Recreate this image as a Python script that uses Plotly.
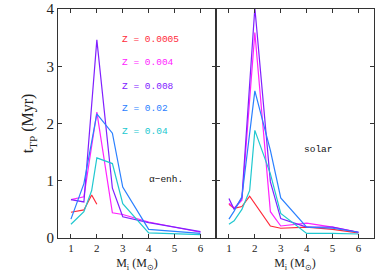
import plotly.graph_objects as go

# ---- data: alpha-enhanced panel ----
ae_red_x = [1, 1.5, 1.8, 2]
ae_red_y = [0.45, 0.49, 0.75, 0.59]
ae_mag_x = [1, 1.5, 2, 2.6, 3, 4, 6]
ae_mag_y = [0.67, 0.72, 2.20, 0.44, 0.41, 0.28, 0.10]
ae_pur_x = [1, 1.5, 2, 2.6, 3, 4, 6]
ae_pur_y = [0.67, 0.63, 3.46, 0.87, 0.37, 0.27, 0.11]
ae_blu_x = [1, 1.5, 2, 2.6, 3, 4, 6]
ae_blu_y = [0.33, 0.95, 2.17, 1.83, 0.89, 0.15, 0.08]
ae_cya_x = [1, 1.5, 1.8, 2, 2.6, 3, 4, 6]
ae_cya_y = [0.24, 0.46, 0.83, 1.40, 1.30, 0.60, 0.09, 0.06]

# ---- data: solar panel ----
so_red_x = [1, 1.2, 1.5, 1.8, 2.6, 3, 4, 5, 6]
so_red_y = [0.59, 0.52, 0.55, 0.73, 0.21, 0.17, 0.19, 0.15, 0.09]
so_mag_x = [1, 1.2, 1.5, 2, 2.6, 3, 4, 5, 6]
so_mag_y = [0.61, 0.52, 0.66, 3.59, 0.46, 0.21, 0.26, 0.19, 0.10]
so_pur_x = [1, 1.2, 1.5, 2, 2.6, 3, 4, 5, 6]
so_pur_y = [0.69, 0.50, 0.70, 4.02, 0.98, 0.34, 0.19, 0.19, 0.10]
so_blu_x = [1, 1.2, 1.5, 2, 2.6, 3, 4, 5, 6]
so_blu_y = [0.33, 0.47, 0.72, 2.57, 1.53, 0.70, 0.19, 0.17, 0.10]
so_cya_x = [1, 1.2, 1.5, 1.8, 2, 2.6, 3, 4, 5, 6]
so_cya_y = [0.24, 0.30, 0.50, 0.83, 1.88, 1.12, 0.43, 0.08, 0.08, 0.07]

labels = ["Z = 0.0005", "Z = 0.004", "Z = 0.008", "Z = 0.02", "Z = 0.04"]
colors = ["#ff2a3a", "#ff22ff", "#8020ff", "#2a80ff", "#20c8d0"]
label_y = [3.46, 3.06, 2.65, 2.26, 1.86]
x_ticks = [1, 2, 3, 4, 5, 6]
y_ticks = [0, 1, 2, 3, 4]

left = [(ae_red_x, ae_red_y), (ae_mag_x, ae_mag_y), (ae_pur_x, ae_pur_y),
        (ae_blu_x, ae_blu_y), (ae_cya_x, ae_cya_y)]
right = [(so_red_x, so_red_y), (so_mag_x, so_mag_y), (so_pur_x, so_pur_y),
         (so_blu_x, so_blu_y), (so_cya_x, so_cya_y)]

fig = go.Figure()
for (x, y), c in zip(left, colors):
    fig.add_trace(go.Scatter(x=x, y=y, mode="lines", line=dict(color=c, width=1.2),
                             xaxis="x", yaxis="y", showlegend=False))
for (x, y), c in zip(right, colors):
    fig.add_trace(go.Scatter(x=x, y=y, mode="lines", line=dict(color=c, width=1.2),
                             xaxis="x2", yaxis="y2", showlegend=False))

ax_common = dict(showline=True, linecolor="#333", linewidth=1, mirror="ticks",
                 ticks="inside", ticklen=4, tickcolor="#333", showgrid=False,
                 zeroline=False, automargin=False)
xfont = dict(family="Liberation Serif", size=11, color="#222")
tfont = dict(family="Liberation Serif", size=12, color="#222")
fig.update_layout(
    width=380, height=280,
    margin=dict(l=58, r=6, t=9, b=42),
    paper_bgcolor="white", plot_bgcolor="white",
    xaxis=dict(domain=[0, 0.5], range=[0.5, 6.6], tickvals=x_ticks, tickfont=xfont,
               title=dict(text="M<sub>i</sub> (M<sub>⊙</sub>)", font=tfont, standoff=5),
               **ax_common),
    xaxis2=dict(domain=[0.5, 1], range=[0.5, 6.6], tickvals=x_ticks, tickfont=xfont,
                anchor="y2",
                title=dict(text="M<sub>i</sub> (M<sub>⊙</sub>)", font=tfont, standoff=5),
                **ax_common),
    yaxis=dict(range=[0, 4], tickvals=y_ticks, anchor="x",
               tickfont=dict(family="Liberation Serif", size=15, color="#222"),
               title=dict(text="t<sub>TP</sub> (Myr)",
                          font=dict(family="Liberation Serif", size=16, color="#222"),
                          standoff=8),
               **ax_common),
    yaxis2=dict(range=[0, 4], tickvals=y_ticks, anchor="x2", showticklabels=False,
                **ax_common),
)

for lab, c, yy in zip(labels, colors, label_y):
    fig.add_annotation(x=2.9, y=yy, xref="x", yref="y", text=lab, showarrow=False,
                       xanchor="left", font=dict(family="Liberation Mono", size=9.5, color=c))
fig.add_annotation(x=4.68, y=1.03, xref="x", yref="y", text="α−enh.", showarrow=False,
                   font=dict(family="Liberation Mono", size=9.5, color="#111"))
fig.add_annotation(x=4.46, y=1.55, xref="x2", yref="y2", text="solar", showarrow=False,
                   font=dict(family="Liberation Mono", size=9.5, color="#111"))

fig.write_html("out.html", config={"displayModeBar": False},
               post_script="document.body.style.margin='0';document.body.style.overflow='hidden';")
